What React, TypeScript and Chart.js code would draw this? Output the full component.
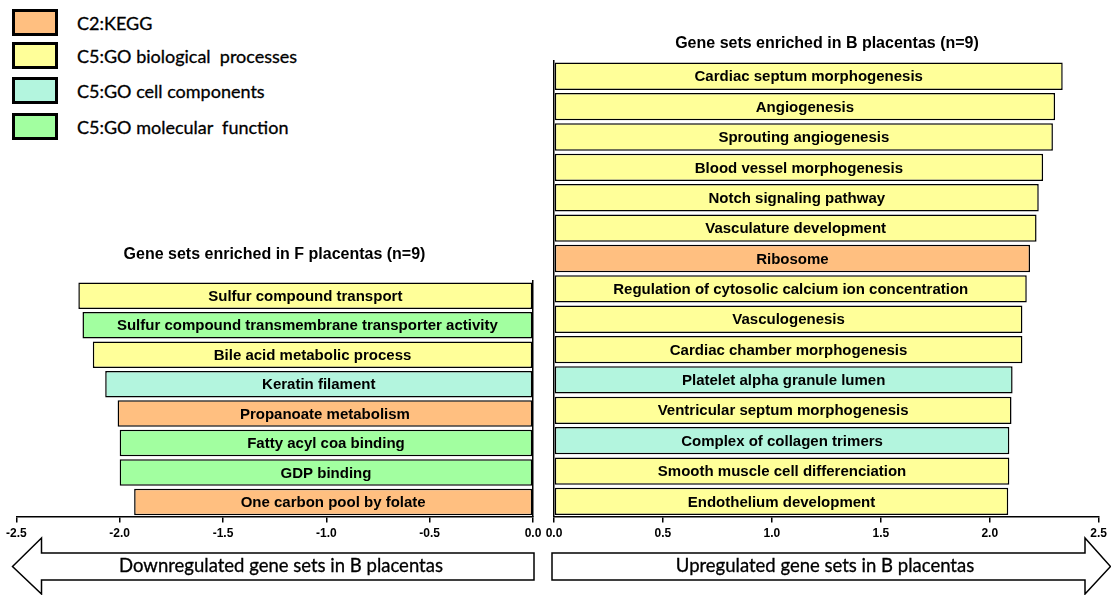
import React, { useEffect, useRef } from "react";
import { Chart, registerables } from "chart.js";

Chart.register(...registerables);

// ---- Data ----
const collectionNames = [
  "C2:KEGG",
  "C5:GO biological  processes",
  "C5:GO cell components",
  "C5:GO molecular  function",
];
const collectionColors = ["#FFBF80", "#FFFF99", "#B3F5DE", "#A2FFA0"];

const downTitle = "Gene sets enriched in F placentas (n=9)";
const downLabels = [
  "Sulfur compound transport",
  "Sulfur compound transmembrane transporter activity",
  "Bile acid metabolic process",
  "Keratin filament",
  "Propanoate metabolism",
  "Fatty acyl coa binding",
  "GDP binding",
  "One carbon pool by folate",
];
const downValues = [-2.2, -2.18, -2.13, -2.07, -2.01, -2.0, -2.0, -1.93];
const downCollections = [1, 3, 1, 2, 0, 3, 3, 0];

const upTitle = "Gene sets enriched in B placentas (n=9)";
const upLabels = [
  "Cardiac septum morphogenesis",
  "Angiogenesis",
  "Sprouting angiogenesis",
  "Blood vessel morphogenesis",
  "Notch signaling pathway",
  "Vasculature development",
  "Ribosome",
  "Regulation of cytosolic calcium ion concentration",
  "Vasculogenesis",
  "Cardiac chamber morphogenesis",
  "Platelet alpha granule lumen",
  "Ventricular septum morphogenesis",
  "Complex of collagen trimers",
  "Smooth muscle cell differenciation",
  "Endothelium development",
];
const upValues = [
  2.335, 2.3, 2.29, 2.245, 2.225, 2.215, 2.185, 2.17, 2.15, 2.15, 2.105, 2.1, 2.09, 2.09, 2.085,
];
const upCollections = [1, 1, 1, 1, 1, 1, 0, 1, 1, 1, 2, 1, 2, 1, 1];

const downAxisMin = -2.5;
const downAxisMax = 0;
const upAxisMin = 0;
const upAxisMax = 2.5;

const downArrowText = "Downregulated gene sets in B placentas";
const upArrowText = "Upregulated gene sets in B placentas";

const ARIAL = '"Liberation Sans", Arial, sans-serif';
const CAL = 'Lato, "Open Sans", sans-serif';

const barTextPlugin = {
  id: "barText",
  afterDatasetsDraw(chart: any) {
    const ctx = chart.ctx;
    const meta = chart.getDatasetMeta(0);
    ctx.save();
    ctx.font = `bold 15px ${ARIAL}`;
    ctx.fillStyle = "#000";
    ctx.textAlign = "center";
    ctx.textBaseline = "middle";
    meta.data.forEach((el: any, i: number) => {
      const p = el.getProps(["x", "y", "base"], true);
      ctx.fillText(chart.data.labels[i], (p.x + p.base) / 2, p.y + 1);
    });
    ctx.restore();
  },
};

function makeConfig(
  labels: string[],
  values: number[],
  cols: number[],
  min: number,
  max: number,
  title: string,
  yPosition: string,
  titlePad: { top: number; bottom: number },
  padding: any
): any {
  return {
    type: "bar",
    data: {
      labels,
      datasets: [
        {
          data: values,
          backgroundColor: cols.map((c) => collectionColors[c]),
          borderColor: "#000",
          borderWidth: 1.5,
          borderSkipped: false,
          barPercentage: 0.9,
          categoryPercentage: 1,
        },
      ],
    },
    options: {
      indexAxis: "y",
      responsive: false,
      animation: false,
      layout: { padding },
      plugins: {
        legend: { display: false },
        tooltip: { enabled: false },
        title: {
          display: true,
          text: title,
          color: "#000",
          font: { family: ARIAL, size: 16, weight: "bold" },
          padding: titlePad,
        },
      },
      scales: {
        x: {
          type: "linear",
          min,
          max,
          ticks: {
            stepSize: 0.5,
            color: "#000",
            padding: 4,
            maxRotation: 0,
            font: { family: ARIAL, size: 12, weight: "bold" },
            callback: (v: number) => Number(v).toFixed(1),
          },
          grid: {
            display: true,
            drawOnChartArea: false,
            drawTicks: true,
            tickLength: 6,
            color: "#000",
            lineWidth: 1.5,
          },
          border: { display: true, color: "#000", width: 1.5 },
        },
        y: {
          type: "category",
          position: yPosition,
          ticks: { display: false },
          grid: { display: false, drawTicks: false },
          border: { display: true, color: "#000", width: 1.5 },
        },
      },
    },
    plugins: [barTextPlugin],
  };
}

function BarPanel(props: {
  left: number;
  top: number;
  width: number;
  height: number;
  config: any;
}) {
  const ref = useRef<HTMLCanvasElement | null>(null);
  useEffect(() => {
    if (!ref.current) return;
    const chart = new Chart(ref.current, props.config);
    return () => chart.destroy();
  }, []);
  return (
    <canvas
      ref={ref}
      width={props.width}
      height={props.height}
      style={{
        position: "absolute",
        left: props.left,
        top: props.top,
        width: props.width,
        height: props.height,
      }}
    />
  );
}

function Legend() {
  return (
    <div style={{ position: "absolute", left: 0, top: 0 }}>
      {collectionNames.map((name, i) => {
        const tops = [9, 42, 77, 113];
        return (
          <div key={name}>
            <div
              style={{
                position: "absolute",
                left: 12,
                top: tops[i],
                width: 46,
                height: 27,
                boxSizing: "border-box",
                border: "3.5px solid #000",
                background: collectionColors[i],
              }}
            />
            <div
              style={{
                position: "absolute",
                left: 77,
                top: tops[i] + 13.5 - 12,
                height: 24,
                lineHeight: "24px",
                fontFamily: CAL,
                fontSize: 18,
                color: "#000",
                whiteSpace: "pre",
                WebkitTextStroke: "0.3px #000",
              }}
            >
              {name}
            </div>
          </div>
        );
      })}
    </div>
  );
}

function Arrows() {
  return (
    <svg
      width={1111}
      height={595}
      style={{ position: "absolute", left: 0, top: 0, pointerEvents: "none" }}
    >
      <polygon
        points="12.5,566.5 41.5,538 41.5,553 534,553 534,580 41.5,580 41.5,594"
        fill="#fff"
        stroke="#000"
        strokeWidth={1.5}
      />
      <polygon
        points="552,553 1085,553 1085,538 1110.5,566.5 1085,594 1085,580 552,580"
        fill="#fff"
        stroke="#000"
        strokeWidth={1.5}
      />
      <text
        x={281}
        y={567}
        textAnchor="middle"
        dominantBaseline="middle"
        fontFamily={CAL}
        fontSize={18.5}
        fill="#000"
        stroke="#000"
        strokeWidth={0.3}
      >
        {downArrowText}
      </text>
      <text
        x={825}
        y={567}
        textAnchor="middle"
        dominantBaseline="middle"
        fontFamily={CAL}
        fontSize={18.5}
        fill="#000"
        stroke="#000"
        strokeWidth={0.3}
      >
        {upArrowText}
      </text>
    </svg>
  );
}

export default function App() {
  const downConfig = makeConfig(
    downLabels,
    downValues,
    downCollections,
    downAxisMin,
    downAxisMax,
    downTitle,
    "right",
    { top: 5.4, bottom: 16.5 },
    { left: 14, right: 14, top: 0, bottom: 2 }
  );
  const upConfig = makeConfig(
    upLabels,
    upValues,
    upCollections,
    upAxisMin,
    upAxisMax,
    upTitle,
    "left",
    { top: 4.4, bottom: 7.5 },
    { left: 14, right: 11, top: 0, bottom: 2 }
  );
  return (
    <div
      style={{
        position: "absolute",
        left: 0,
        top: 0,
        width: 1111,
        height: 595,
        background: "#fff",
        overflow: "hidden",
      }}
    >
      <Legend />
      <BarPanel left={2} top={240} width={545} height={307} config={downConfig} />
      <BarPanel left={540} top={30} width={571} height={517} config={upConfig} />
      <Arrows />
    </div>
  );
}
